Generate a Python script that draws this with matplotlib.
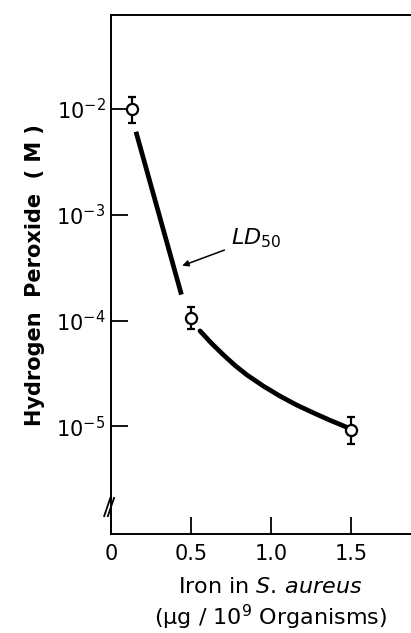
import matplotlib
matplotlib.use("Agg")
import matplotlib.pyplot as plt

plt.rcParams['font.family'] = ['DejaVu Sans']
plt.rcParams['mathtext.default'] = 'regular'

# measured points (iron, H2O2 LD50) with error bar limits
iron = [0.13, 0.5, 1.5]
peroxide = [1.0e-2, 1.05e-4, 0.93e-5]
err_low = [0.26e-2, 0.22e-4, 0.25e-5]
err_high = [0.30e-2, 0.30e-4, 0.30e-5]

# hand-drawn fitted line
seg1_x = [0.156, 0.44]
seg1_y = [6.1e-3, 1.76e-4]
seg2_x = [0.556, 0.629, 0.702, 0.775, 0.848, 0.952, 1.056, 1.16, 1.265,
          1.369, 1.473]
seg2_y = [7.99e-5, 6.07e-5, 4.74e-5, 3.76e-5, 3.07e-5, 2.40e-5, 1.93e-5,
          1.59e-5, 1.34e-5, 1.14e-5, 0.98e-5]

xticks = [0, 0.5, 1.0, 1.5]
xticklabels = ['0', '0.5', '1.0', '1.5']
yticks = [1e-5, 1e-4, 1e-3, 1e-2]
yticklabels = ['$10^{-5}$', '$10^{-4}$', '$10^{-3}$', '$10^{-2}$']

fig = plt.figure(figsize=(4.11, 6.33), dpi=100)
ax = fig.add_axes([0.270, 0.156, 0.752, 0.820])

ax.plot(seg1_x, seg1_y, color='black', lw=3.4, solid_capstyle='butt')
ax.plot(seg2_x, seg2_y, color='black', lw=3.4, solid_capstyle='round',
        solid_joinstyle='round')
ax.errorbar(iron, peroxide, yerr=[err_low, err_high], fmt='o', ms=8,
            mfc='white', mec='black', mew=1.6, ecolor='black',
            elinewidth=1.6, capsize=3, capthick=1.6, zorder=5)

ax.set_yscale('log')
ax.set_xlim(0, 1.93)
ax.set_ylim(10 ** -6.02, 10 ** -1.113)
ax.set_xticks(xticks)
ax.set_xticklabels(xticklabels)
ax.set_yticks(yticks)
ax.set_yticklabels(yticklabels)
ax.minorticks_off()
ax.tick_params(direction='in', length=12, width=1.3, labelsize=15, pad=4)
ax.tick_params(axis='x', pad=7)
for s in ax.spines.values():
    s.set_linewidth(1.4)

# axis break marks
for dx in (-0.012, 0.0):
    ax.plot([dx - 0.01, dx + 0.01], [0.035, 0.07], transform=ax.transAxes,
            color='black', lw=1.3, clip_on=False)

ax.annotate('$\\mathit{LD}_{\\mathit{50}}$', xy=(0.445, 3.3e-4),
            xytext=(0.75, 6.0e-4), fontsize=16,
            ha='left', va='center',
            arrowprops=dict(arrowstyle='-|>', color='black', lw=1.1,
                            mutation_scale=9, shrinkA=3, shrinkB=0))

ax.set_ylabel('Hydrogen  Peroxide  ( M )', fontsize=15, fontweight='bold',
              labelpad=8)
fig.text(0.657, 0.073, 'Iron in $\\it{S.\\,aureus}$', ha='center',
         va='center', fontsize=16)
fig.text(0.657, 0.024, '($\\mu$g / 10$^9$ Organisms)', ha='center',
         va='center', fontsize=16)

fig.savefig('out.png', dpi=100)
